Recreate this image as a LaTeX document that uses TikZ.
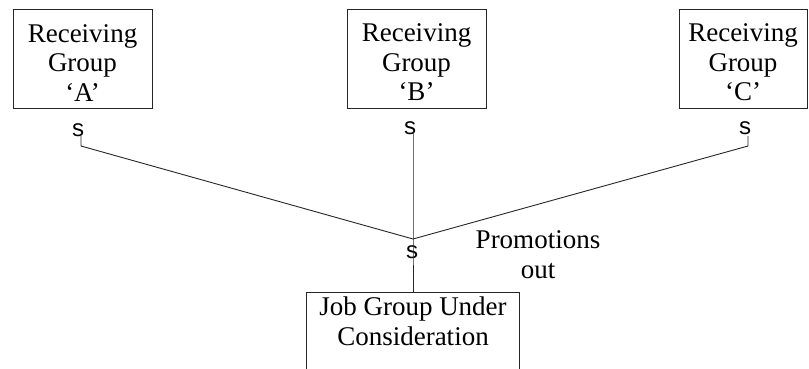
\documentclass[tikz,border=0pt]{standalone}
\usepackage{fontspec}
\setmainfont{Liberation Serif}
\newfontfamily\markfont{Liberation Mono}
\newcommand\firstlinestrut{\rule{0pt}{26pt}}
\begin{document}
\begin{tikzpicture}[x=1pt, y=-1pt,
  line/.style={draw=black!85, line width=0.9pt},
  groupbox/.style={line, rectangle, inner sep=0pt, align=center,
    minimum height=99pt,
    font={\fontsize{27}{29.5}\selectfont}},
  plain/.style={align=center, inner sep=0pt,
    font={\fontsize{27}{30}\selectfont}},
  marker/.style={inner sep=0pt, font={\markfont\fontsize{24}{24}\selectfont}}
]
\useasboundingbox (0,0) rectangle (809,368);

% receiving groups
\node[groupbox, minimum width=139pt] (A) at (82.5,58.5) {\firstlinestrut Receiving\\Group\\‘A’};
\node[groupbox, minimum width=139pt] (B) at (416.5,58.5) {\firstlinestrut Receiving\\Group\\‘B’};
\node[groupbox, minimum width=128pt] (C) at (743,58.5) {\firstlinestrut Receiving\\Group\\‘C’};

% job group under consideration (open at the lower edge of the sheet)
\node[plain, anchor=north, minimum width=212pt, inner ysep=4.6pt] (job) at (413,292)
  {Job Group Under\\Consideration};
\draw[line] (job.north west) rectangle ([yshift=-120pt]job.north east);

% s markers
\node[marker] (sA) at (78,130) {s};
\node[marker] (sB) at (410,128) {s};
\node[marker] (sC) at (745,128) {s};
\node[marker] (sJ) at (412,252) {s};

% branch points
\coordinate (a1) at (81,136);
\coordinate (a2) at (81,146);
\coordinate (c1) at (748,136);
\coordinate (c2) at (748,146);
\coordinate (b1) at (413,130);
\coordinate (J) at (413,239);

\draw[line] (a1) -- (a2) -- (J);
\draw[line] (c1) -- (c2) -- (J);
\draw[line] (b1) -- (J) -- (job.north);

% label
\node[plain] (promo) at (538,254.5) {Promotions\\out};
\end{tikzpicture}
\end{document}
